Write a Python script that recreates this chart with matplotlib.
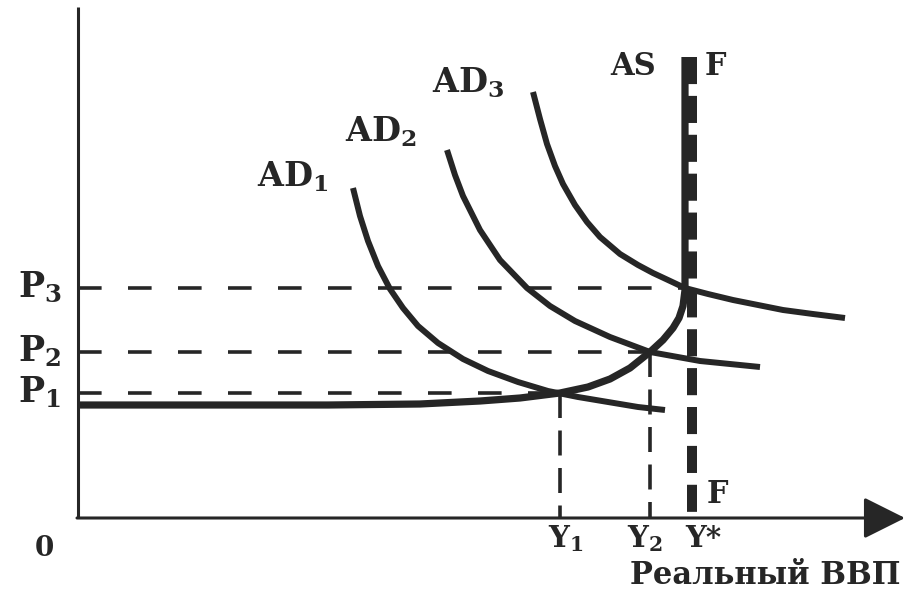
import matplotlib
matplotlib.use("Agg")
import matplotlib.pyplot as plt

# chart units: origin at the corner of the axes
ad1_x = [275, 282, 290, 300, 312, 325, 340, 360, 385, 410, 440, 470, 500, 530, 560, 587]
ad1_y = [330, 302, 277, 252, 229, 210, 192, 175, 159, 147, 136, 127, 121, 116, 111, 108]

ad2_x = [369, 377, 385, 402, 422, 449, 472, 497, 532, 572, 622, 682]
ad2_y = [368, 343, 322, 288, 258, 230, 212, 197, 181, 166, 157, 151]

ad3_x = [455, 462, 469, 477, 485, 497, 509, 522, 542, 560, 575, 590, 607, 630, 655, 680, 705, 735, 767]
ad3_y = [426, 399, 374, 352, 334, 313, 296, 281, 264, 253, 245, 238, 230, 224, 218, 213, 208, 204, 200]

as_x = [0, 250, 342, 402, 442, 482, 510, 532, 552, 572, 585, 595, 601, 605, 607, 607]
as_y = [113, 113, 114, 117, 120, 125, 131, 139, 150, 166, 178, 190, 200, 212, 228, 461]

p_levels = [125, 166, 230]          # P1, P2, P3
y_levels = [482, 572, 607]          # Y1, Y2, Y*
p_labels = ["$\\mathbf{P_1}$", "$\\mathbf{P_2}$", "$\\mathbf{P_3}$"]
y_labels = ["$\\mathbf{Y_1}$", "$\\mathbf{Y_2}$", "Y*"]
ad_labels = ["$\\mathbf{AD_1}$", "$\\mathbf{AD_2}$", "$\\mathbf{AD_3}$"]
f_x = 614
f_top = 461
y_axis_top = 511
x_axis_end = 827

plt.rcParams['lines.scale_dashes'] = False
plt.rcParams['mathtext.fontset'] = 'dejavuserif'
ink = '#262626'
serif = dict(family='DejaVu Serif', weight='bold', color=ink)

fig = plt.figure(figsize=(9.16, 5.92), dpi=100)
ax = fig.add_axes([0, 0, 1, 1])
ax.set_xlim(-78, 838)
ax.set_ylim(-74, 518)
ax.axis('off')

# axes
ax.plot([0, 0], [0, y_axis_top], color=ink, lw=2.2, solid_capstyle='butt')
ax.annotate('', xy=(x_axis_end, 0), xytext=(-1, 0),
            arrowprops=dict(arrowstyle='-|>,head_length=2.6,head_width=1.3',
                            lw=2.2, color=ink, shrinkA=0, shrinkB=0))

# guide lines
for p, yv in zip(p_levels, y_levels):
    ax.plot([0, yv], [p, p], color=ink, lw=2.6, dashes=(17, 19),
            dash_capstyle='butt')
for p, yv in zip(p_levels[:2], y_levels[:2]):
    ax.plot([yv, yv], [p, 0], color=ink, lw=2.6, dashes=(18, 9),
            dash_capstyle='butt')

# F line (long-run supply)
ax.plot([f_x, f_x], [f_top, 0], color=ink, lw=7.2, dashes=(19.5, 8.5),
        dash_capstyle='butt')

# curves
for xs, ys in [(ad1_x, ad1_y), (ad2_x, ad2_y), (ad3_x, ad3_y)]:
    ax.plot(xs, ys, color=ink, lw=4.3, solid_capstyle='butt',
            solid_joinstyle='round')
ax.plot(as_x, as_y, color=ink, lw=5.2, solid_capstyle='butt',
        solid_joinstyle='round')

# labels
for p, lab in zip(p_levels, p_labels):
    ax.text(-60, p - 9, lab, fontsize=25, ha='left', va='baseline', **serif)
for yv, dx, lab in zip(y_levels, [-12, -23, 0], y_labels):
    ax.text(yv + dx, -29, lab, fontsize=21, ha='left', va='baseline', **serif)
ax.text(-34, -30, '0', fontsize=20, ha='center', va='center', **serif)
for (lx, ly), lab in zip([(179, 331), (267, 376), (354, 425)], ad_labels):
    ax.text(lx, ly, lab, fontsize=24, ha='left', va='baseline', **serif)
ax.text(532, 443, 'AS', fontsize=22, ha='left', va='baseline', **serif)
ax.text(627, 443, 'F', fontsize=22, ha='left', va='baseline', **serif)
ax.text(629, 15, 'F', fontsize=22, ha='left', va='baseline', **serif)
ax.text(822, -66, 'Реальный ВВП', fontsize=22, ha='right', va='baseline', **serif)

fig.savefig('out.png', dpi=100)
